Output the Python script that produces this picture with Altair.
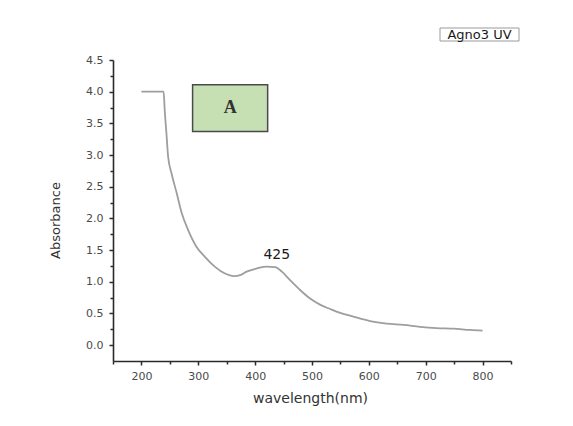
import altair as alt
import pandas as pd

# Values
wavelength = [200, 239, 241, 244, 247, 253, 262, 271, 282, 297, 312, 329, 347, 362, 375, 385,
              403, 420, 435, 447, 461, 479, 496, 514, 532, 543, 573, 602, 631, 661, 690, 719,
              749, 778, 800]
absorbance = [4.0, 4.0, 3.7, 3.34, 2.97, 2.71, 2.40, 2.08, 1.82, 1.55, 1.39, 1.24, 1.13, 1.09,
              1.11, 1.16, 1.21, 1.24, 1.23, 1.16, 1.03, 0.87, 0.74, 0.64, 0.57, 0.53, 0.45,
              0.38, 0.34, 0.32, 0.29, 0.27, 0.26, 0.24, 0.23]
x_ticks = [150, 200, 250, 300, 350, 400, 450, 500, 550, 600, 650, 700, 750, 800, 850]
y_ticks = [0.0, 0.25, 0.5, 0.75, 1.0, 1.25, 1.5, 1.75, 2.0, 2.25, 2.5, 2.75, 3.0, 3.25,
           3.5, 3.75, 4.0, 4.25, 4.5]
peak_label = "425"
panel_label = "A"
legend_label = "Agno3 UV"

df = pd.DataFrame({"wavelength": wavelength, "absorbance": absorbance})
one = pd.DataFrame({"k": [0]})

FONT = "DejaVu Sans"
AX = "#2a2a2a"
LBL = "#4a4a4a"

x_scale = alt.Scale(domain=[150, 850], nice=False, zero=False)
y_scale = alt.Scale(domain=[-0.25, 4.5], nice=False, zero=False)

x_axis = alt.Axis(
    values=x_ticks, tickCount=50,
    labelExpr="(datum.value % 100 === 0 && datum.value >= 200 && datum.value <= 800) ? datum.label : ''",
    format="d",
    tickSize={"condition": {"test": "datum.value % 100 === 0", "value": 4}, "value": 3},
    title="wavelength(nm)",
    titleX=197, titleY=37, titleBaseline="middle", titleAlign="center",
    titleFontSize=14, titleFontWeight="normal", titleColor="#333333", titleFont=FONT,
    labelFontSize=11, labelColor=LBL, labelFont=FONT, labelPadding=5,
    labelFlush=False, labelOverlap=False,
    domainColor=AX, domainWidth=1.6, tickColor=AX, tickWidth=1.5, grid=False,
)
y_axis = alt.Axis(
    values=y_ticks, tickCount=50,
    labelExpr="abs(datum.value*2 - round(datum.value*2)) < 0.001 ? datum.label : ''",
    format=".1f",
    tickSize={"condition": {"test": "abs(datum.value*2 - round(datum.value*2)) < 0.001", "value": 4}, "value": 3},
    title="Absorbance",
    titleX=-58, titleY=160, titleAngle=270, titleBaseline="middle", titleAlign="center",
    titleFontSize=13, titleFontWeight="normal", titleColor="#333333", titleFont=FONT,
    labelFontSize=11, labelColor=LBL, labelFont=FONT, labelPadding=6,
    labelFlush=False, labelOverlap=False,
    domainColor=AX, domainWidth=1.6, tickColor=AX, tickWidth=1.5, grid=False,
)

line = alt.Chart(df).mark_line(color="#9e9e9e", strokeWidth=1.8, interpolate="monotone").encode(
    x=alt.X("wavelength:Q", scale=x_scale, axis=x_axis),
    y=alt.Y("absorbance:Q", scale=y_scale, axis=y_axis),
)

box_a = alt.Chart(one).mark_rect(fill="#c6e0b4", stroke="#4a4a4a", strokeWidth=1.5).encode(
    x=alt.datum(290), x2=alt.datum(422), y=alt.datum(4.11), y2=alt.datum(3.37),
)
text_a = alt.Chart(one).mark_text(
    text=panel_label, font="Liberation Serif", fontSize=18, fontWeight="bold",
    color="#333333", baseline="middle", align="center",
).encode(x=alt.datum(356), y=alt.datum(3.74))

peak = alt.Chart(one).mark_text(
    text=peak_label, font=FONT, fontSize=14, color="#1a1a1a", baseline="middle", align="center",
).encode(x=alt.datum(438), y=alt.datum(1.42))

legend_box = alt.Chart(one).mark_rect(fill="white", stroke="#9a9a9a", strokeWidth=1).encode(
    x=alt.value(327), x2=alt.value(406), y=alt.value(-32), y2=alt.value(-19),
)
legend_text = alt.Chart(one).mark_text(
    text=legend_label, font=FONT, fontSize=13, color="#1a1a1a", baseline="middle", align="center",
).encode(x=alt.value(366.5), y=alt.value(-25.5))

chart = alt.layer(line, box_a, text_a, peak, legend_box, legend_text).properties(
    width=398, height=301,
    autosize=alt.AutoSizeParams(type="none"),
    padding={"left": 105, "top": 52, "right": 54, "bottom": 57},
    background="white",
).configure_view(stroke=None)

chart.save("out.html", embed_options={"renderer": "svg", "actions": False})
